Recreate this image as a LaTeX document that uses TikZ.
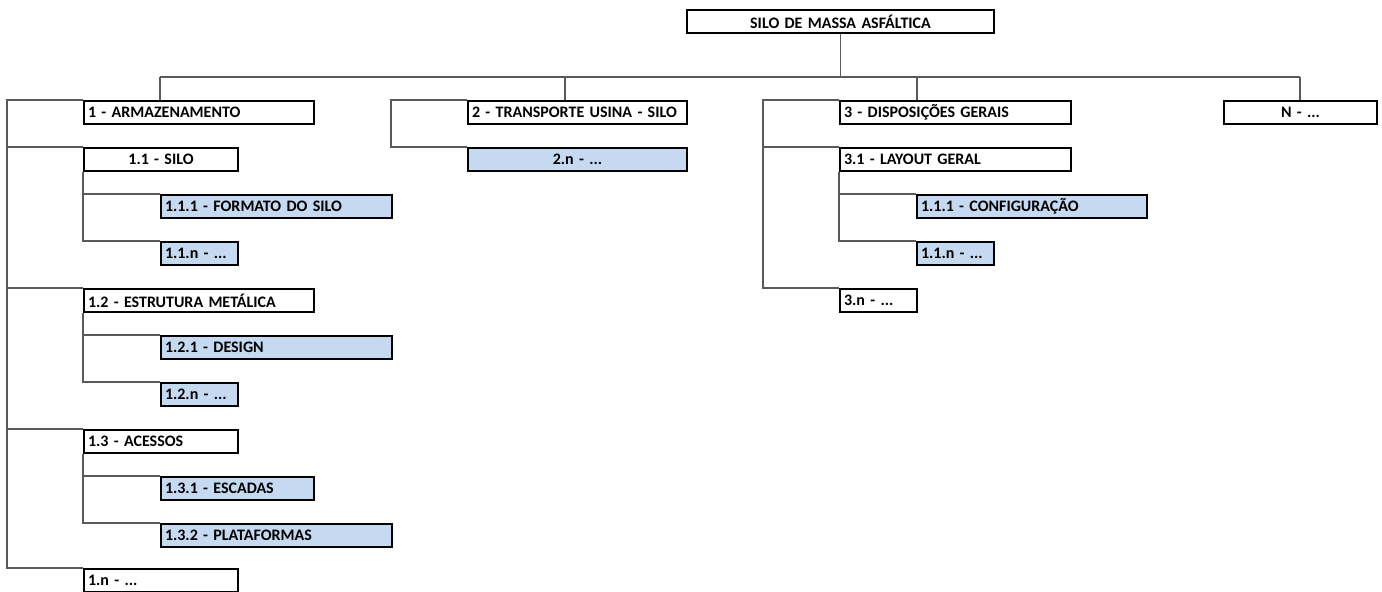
\documentclass[tikz,border=0pt]{standalone}
\usepackage{fontspec}
\setmainfont{Carlito}
\definecolor{cellblue}{RGB}{197,217,241}
\definecolor{linkgray}{RGB}{90,90,90}
\tikzset{
  x=0.75pt, y=-0.75pt,
  % box width given in pixels of the layout grid
  bw/.code={\pgfmathsetmacro\bwd{#1*0.75}\pgfmathsetmacro\btw{#1*0.75-6}%
    \tikzset{minimum width=\bwd pt, text width=\btw pt}},
  cell/.style={draw=black, line width=1.5pt, rectangle, anchor=north west,
    minimum height=17.25pt, inner xsep=3pt, inner ysep=0pt,
    font=\fontsize{12}{14}\selectfont\bfseries, align=left},
  mid/.style={align=center},
  sub/.style={fill=cellblue},
  link/.style={draw=linkgray, line width=0.8pt},
}
\begin{document}
\begin{tikzpicture}
\useasboundingbox (0,0) rectangle (1382,592);

% root
\node[cell, mid, bw=307] (root) at (686,9) {SILO DE MASSA ASFÁLTICA};

% first level
\node[cell, bw=230] (a) at (83,100) {1 - ARMAZENAMENTO};
\node[cell, bw=219] (b) at (467,100) {2 - TRANSPORTE USINA - SILO};
\node[cell, bw=231] (c) at (839,100) {3 - DISPOSIÇÕES GERAIS};
\node[cell, mid, bw=153] (n) at (1223,100) {N - ...};

% branch 1
\node[cell, mid, bw=154] (a1) at (83,147) {1.1 - SILO};
\node[cell, sub, bw=231] (a11) at (160,194) {1.1.1 - FORMATO DO SILO};
\node[cell, sub, bw=77] (a1n) at (160,241) {1.1.n - ...};
\node[cell, bw=230] (a2) at (83,288) {1.2 - ESTRUTURA METÁLICA};
\node[cell, sub, bw=231] (a21) at (160,335) {1.2.1 - DESIGN};
\node[cell, sub, bw=77] (a2n) at (160,382) {1.2.n - ...};
\node[cell, bw=154] (a3) at (83,429) {1.3 - ACESSOS};
\node[cell, sub, bw=153] (a31) at (160,476) {1.3.1 - ESCADAS};
\node[cell, sub, bw=231] (a32) at (160,523) {1.3.2 - PLATAFORMAS};
\node[cell, bw=154] (an) at (83,568) {1.n - ...};

% branch 2
\node[cell, sub, mid, bw=219] (bn) at (467,147) {2.n - ...};

% branch 3
\node[cell, bw=231] (c1) at (839,147) {3.1 - LAYOUT GERAL};
\node[cell, sub, bw=230] (c11) at (916,194) {1.1.1 - CONFIGURAÇÃO};
\node[cell, sub, bw=77] (c1n) at (916,241) {1.1.n - ...};
\node[cell, bw=77] (cn) at (839,288) {3.n - ...};

% bus below the root
\coordinate (busL) at (160,77);
\coordinate (busR) at (1300,77);
\coordinate (d2) at (565,77);
\coordinate (d3) at (917,77);
\draw[link] (root.south) -- (root.south |- busL);
\draw[link] (busL) -- (busR);
\draw[link] (busL) -- (busL |- a.north);
\draw[link] (d2) -- (d2 |- b.north);
\draw[link] (d3) -- (d3 |- c.north);
\draw[link] (busR) -- (busR |- n.north);

% side rails
\coordinate (r1) at (7,0);
\coordinate (r2) at (391,0);
\coordinate (r3) at (763,0);

\draw[link] (a.north west) -- (a.north west -| r1) -- (an.north west -| r1) -- (an.north west);
\foreach \k in {a1,a2,a3}
  \draw[link] (\k.north west -| r1) -- (\k.north west);
\draw[link] (a1.south west) |- (a1n.north west);
\draw[link] (a1.south west |- a11.north west) -- (a11.north west);
\draw[link] (a2.south west) |- (a2n.north west);
\draw[link] (a2.south west |- a21.north west) -- (a21.north west);
\draw[link] (a3.south west) |- (a32.north west);
\draw[link] (a3.south west |- a31.north west) -- (a31.north west);

\draw[link] (b.north west) -- (b.north west -| r2) |- (bn.north west);

\draw[link] (c.north west) -- (c.north west -| r3) |- (cn.north west);
\draw[link] (c1.north west -| r3) -- (c1.north west);
\draw[link] (c1.south west) |- (c1n.north west);
\draw[link] (c1.south west |- c11.north west) -- (c11.north west);
\end{tikzpicture}
\end{document}
